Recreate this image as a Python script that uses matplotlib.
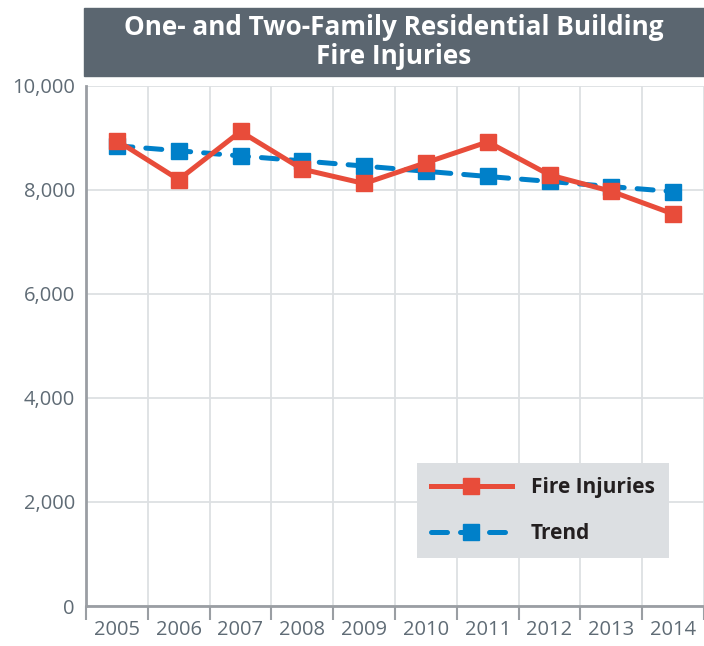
import matplotlib
matplotlib.use('Agg')
import matplotlib.pyplot as plt
import numpy as np
from matplotlib.patches import Rectangle

plt.rcParams['font.family'] = ['Open Sans', 'DejaVu Sans']

years = ['2005', '2006', '2007', '2008', '2009', '2010', '2011', '2012', '2013', '2014']
fire_injuries = [8950, 8200, 9125, 8400, 8125, 8525, 8925, 8290, 7975, 7540]
trend = [8850, 8755, 8655, 8560, 8460, 8360, 8260, 8165, 8065, 7970]
y_ticks = [0, 2000, 4000, 6000, 8000, 10000]

W, H = 704, 646
fig = plt.figure(figsize=(W / 100, H / 100), dpi=100)
ax = fig.add_axes([86 / W, 1 - 606 / H, 618 / W, 520 / H])

x = np.arange(len(years))
ax.plot(x, trend, color='#0080c9', lw=3.6, ls=(0, (3.2, 2.6)), dash_capstyle='round',
        marker='s', ms=11.5, label='Trend', zorder=3)
ax.plot(x, fire_injuries, color='#e84c3a', lw=3.6, marker='s', ms=11.5,
        label='Fire Injuries', zorder=4)

ax.set_xlim(-0.5, len(years) - 0.5)
ax.set_ylim(0, 10000)
ax.set_xticks(np.arange(-0.5, len(years)))
ax.set_xticklabels([])
ax.set_xticks(x, minor=True)
ax.set_xticklabels(years, minor=True)
ax.tick_params(axis='x', which='major', length=10, width=1.5, color='#9a9ea3')
ax.tick_params(axis='x', which='minor', length=0, pad=10, labelsize=14.5, labelcolor='#5f6b75')
ax.set_yticks(y_ticks)
ax.set_yticklabels([f'{v:,}' for v in y_ticks])
ax.tick_params(axis='y', length=0, pad=8, labelsize=14.5, labelcolor='#5f6b75')

ax.grid(True, which='major', color='#dde0e3', lw=1.3)
ax.set_axisbelow(True)
for s in ['top', 'right']:
    ax.spines[s].set_visible(False)
for s in ['left', 'bottom']:
    ax.spines[s].set_color('#9a9ea3')
    ax.spines[s].set_linewidth(2)

h, l = ax.get_legend_handles_labels()
leg = ax.legend(h[::-1], l[::-1], loc='lower right', bbox_to_anchor=(0.943, 0.092),
                borderaxespad=0, frameon=True, fancybox=False, handlelength=3.9,
                labelspacing=1.2, borderpad=0.68, handletextpad=0.9,
                prop={'weight': 'bold', 'size': 15})
leg.get_frame().set_facecolor('#dcdfe2')
leg.get_frame().set_edgecolor('none')
leg.get_frame().set_alpha(1)
for t in leg.get_texts():
    t.set_color('#231f20')

fig.patches.append(Rectangle((84 / W, 1 - 76 / H), (W - 84) / W, 68 / H,
                             transform=fig.transFigure, color='#5b6670', zorder=0))
fig.text(394 / W, 1 - 42 / H, 'One- and Two-Family Residential Building\nFire Injuries',
         ha='center', va='center', color='white', fontsize=18.8, fontweight='bold',
         linespacing=1.12)

fig.savefig('out.png', dpi=100)
